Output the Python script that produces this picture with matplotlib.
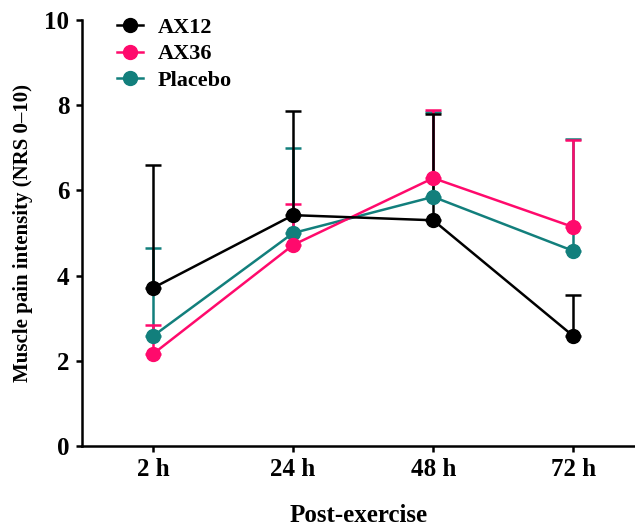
import matplotlib
matplotlib.use("Agg")
import matplotlib.pyplot as plt
from matplotlib.lines import Line2D
import numpy as np

categories = ["2 h", "24 h", "48 h", "72 h"]
ax12 = [3.71, 5.42, 5.30, 2.58]
ax12_err = [2.89, 2.44, 2.49, 0.96]
ax36 = [2.16, 4.72, 6.29, 5.14]
ax36_err = [0.68, 0.96, 1.60, 2.04]
placebo = [2.58, 5.00, 5.85, 4.58]
placebo_err = [2.07, 2.00, 1.99, 2.62]

plt.rcParams['font.family'] = ['Liberation Serif', 'DejaVu Serif']
plt.rcParams['font.weight'] = 'bold'

fig = plt.figure(figsize=(6.35, 5.3), dpi=100)
ax = fig.add_axes([0.129, 0.1585, 0.871, 0.8036])

x = np.arange(len(categories))
series = [("AX12", ax12, ax12_err, "#000000"),
          ("AX36", ax36, ax36_err, "#FF0A6C"),
          ("Placebo", placebo, placebo_err, "#127F7C")]
for name, vals, errs, col in reversed(series):
    ax.errorbar(x, vals, yerr=[np.zeros(len(errs)), errs], color=col, lw=1.8,
                marker='o', markersize=10, capsize=6, capthick=1.8, elinewidth=1.8)

handles = [Line2D([], [], color=col, lw=1.8, marker='o', markersize=10)
           for name, vals, errs, col in series]
labels = [s[0] for s in series]
ax.legend(handles, labels, loc='upper left', bbox_to_anchor=(0.028, 1.053),
          frameon=False, handlelength=1.15, handletextpad=0.65, labelspacing=0.26,
          prop={'weight': 'bold', 'size': 16, 'family': 'Liberation Serif'})

ax.set_xlim(-0.507, 3.44)
ax.set_ylim(0, 10)
ax.set_xticks(x)
ax.set_xticklabels(categories)
ax.set_yticks([0, 2, 4, 6, 8, 10])
for s in ['top', 'right']:
    ax.spines[s].set_visible(False)
for s in ['left', 'bottom']:
    ax.spines[s].set_linewidth(1.8)
ax.tick_params(axis='both', direction='out', width=1.8, length=4, labelsize=18, pad=5)
for lab in ax.get_xticklabels() + ax.get_yticklabels():
    lab.set_fontweight('bold')
ax.set_ylabel("Muscle pain intensity (NRS 0\u201310)", fontsize=15, fontweight='bold', labelpad=8)
ax.set_xlabel("Post-exercise", fontsize=18, fontweight='bold', labelpad=16.5)

fig.savefig("out.png", dpi=100)
